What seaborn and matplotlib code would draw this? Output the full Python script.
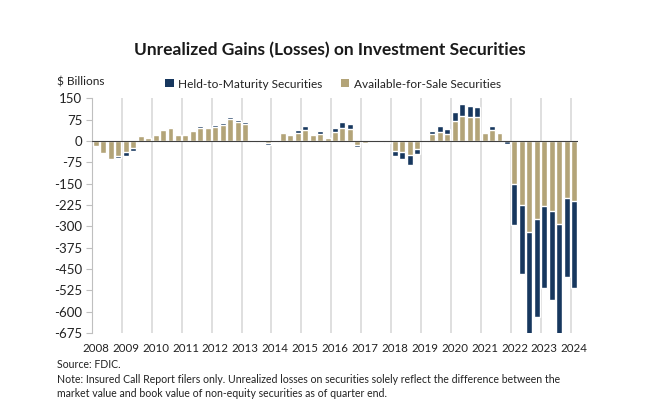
import matplotlib
matplotlib.use("Agg")
import matplotlib.pyplot as plt
import seaborn as sns
import numpy as np
import pandas as pd
from matplotlib.patches import Patch

# ---- data ($ billions), quarterly 2008Q1 .. 2024Q1 ----
years = list(range(2008, 2025))
quarters = [f"{y}Q{q}" for y in range(2008, 2024) for q in range(1, 5)] + ["2024Q1"]

afs = [
    -18, -44, -64, -54,      # 2008
    -38, -25, 16, 10,        # 2009
    22, 37, 44, 20,          # 2010
    22, 35, 47, 44,          # 2011
    50, 56, 76, 67,          # 2012
    59, -5, -5, -7,          # 2013
    0, 28, 22, 29,           # 2014
    40, 20, 26, 10,          # 2015
    31, 47, 41, -15,         # 2016
    -7, 1, 4, -2,            # 2017
    -34, -40, -51, -27,      # 2018
    0, 24, 33, 26,           # 2019
    70, 89, 85, 85,          # 2020
    28, 40, 28, -1,          # 2021
    -150, -225, -321, -276,  # 2022
    -229, -246, -293, -202,  # 2023
    -210,                    # 2024
]
htm = [
    0, 0, 0, -7,
    -14, -11, 0, 0,
    0, 3, 5, 2,
    0, 2, 4, 2,
    5, 7, 8, 8,
    8, -2, -2, -8,
    -2, 0, 0, 8,
    11, 2, 9, 0,
    16, 20, 20, -6,
    -5, 0, 0, -4,
    -20, -25, -33, -19,
    -2, 11, 20, 17,
    33, 40, 39, 35,
    0, 14, 0, -8,
    -144, -244, -369, -344,
    -287, -312, -391, -276,
    -306,
]
series_names = ["Held-to-Maturity Securities", "Available-for-Sale Securities"]
yticks = list(range(-675, 151, 75))

NAVY = "#17375e"
TAN = "#b3a478"

df = pd.DataFrame({"quarter": quarters, "afs": afs, "htm": htm})
df["total"] = df["afs"] + df["htm"]

sns.set_theme(style="white")
plt.rcParams["font.family"] = ["Lato", "DejaVu Sans"]

fig = plt.figure(figsize=(6.68, 4.15), dpi=100)
ax = fig.add_axes([92 / 668, 1 - 333 / 415, (578 - 92) / 668, (333 - 98.3) / 415])

sns.barplot(data=df, x="quarter", y="total", order=quarters, color=NAVY,
            saturation=1, width=0.8, errorbar=None, ax=ax, zorder=2)
sns.barplot(data=df, x="quarter", y="afs", order=quarters, color=TAN,
            saturation=1, width=0.8, errorbar=None, ax=ax, zorder=3)

ax.set_xlim(-0.5, len(quarters) - 0.5)
ax.set_ylim(-675, 150)

# vertical year gridlines via minor ticks
ax.set_xticks([4 * k - 0.5 for k in range(1, len(years))], minor=True)
ax.set_axisbelow(True)
ax.grid(False, which="major")
ax.grid(True, which="minor", axis="x", color="#d6d6d6", linewidth=1.1)
ax.tick_params(axis="x", which="minor", length=0)
ax.axhline(0, color="#404040", lw=0.8, zorder=4)

ax.set_yticks(yticks)
ax.set_yticklabels([str(v) for v in yticks], fontsize=9.5, color="#222222")
ax.set_xticks([4 * k for k in range(len(years))])
ax.set_xticklabels([str(y) for y in years], fontsize=8.3, color="#222222")
ax.tick_params(axis="x", which="major", length=0, pad=7)
ax.tick_params(axis="y", length=4, width=0.8, color="#bfbfbf", pad=3, left=True)
ax.set_xlabel("")
ax.set_ylabel("")
for s in ["top", "right", "bottom"]:
    ax.spines[s].set_visible(False)
ax.spines["left"].set_color("#bfbfbf")
ax.spines["left"].set_linewidth(0.8)

fig.text(330 / 668, 1 - 50 / 415, "Unrealized Gains (Losses) on Investment Securities",
         ha="center", va="center", fontsize=12.5, fontweight="bold", color="#1a1a1a")
fig.text(57 / 668, 1 - 82 / 415, "$ Billions", ha="left", va="center",
         fontsize=8.6, color="#222222")

handles = [Patch(facecolor=NAVY, edgecolor="none"), Patch(facecolor=TAN, edgecolor="none")]
fig.legend(handles, series_names, loc="center", bbox_to_anchor=(333 / 668, 1 - 84 / 415),
           ncol=2, frameon=False, fontsize=8.6, handlelength=0.7, handleheight=0.7,
           handletextpad=0.4, columnspacing=1.5, labelcolor="#222222")

fig.text(57 / 668, 1 - 365 / 415, "Source: FDIC.", ha="left", va="center",
         fontsize=7.6, color="#222222")
fig.text(57 / 668, 1 - 379 / 415,
         "Note: Insured Call Report filers only. Unrealized losses on securities solely reflect the difference between the",
         ha="left", va="center", fontsize=7.6, color="#222222")
fig.text(57 / 668, 1 - 393 / 415,
         "market value and book value of non-equity securities as of quarter end.",
         ha="left", va="center", fontsize=7.6, color="#222222")

fig.savefig("out.png", dpi=100, facecolor="white")
